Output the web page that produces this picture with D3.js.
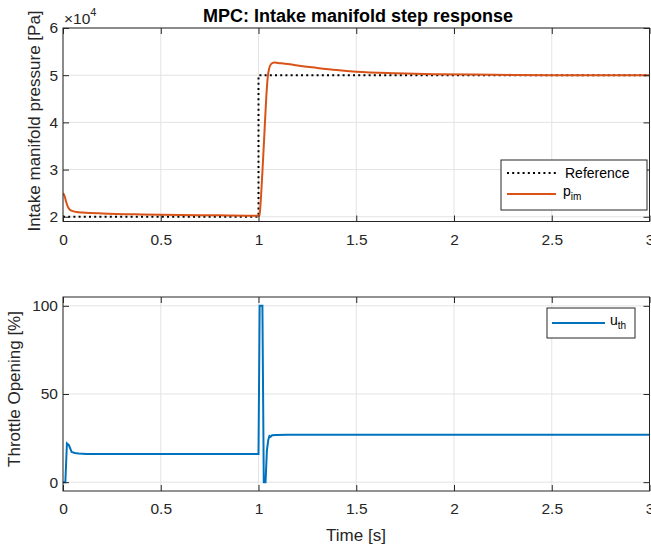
<!doctype html>
<html>
<head>
<meta charset="utf-8">
<script src="https://d3js.org/d3.v7.min.js"></script>
<style>
  body { margin: 0; background: #fff; }
  svg text { font-family: "Liberation Sans", Arial, sans-serif; fill: #262626; }
  .axis path { display: none; }
  .axis line { stroke: #262626; }
  .axis text { font-size: 15.5px; }
</style>
</head>
<body>
<script>
// x values shared by both panels
var xTicks = [0, 0.5, 1, 1.5, 2, 2.5, 3];

// top panel: intake manifold pressure (x 1e4 Pa)
var refTime = [0, 1.0, 1.0, 3.0];
var refValue = [2, 2, 5, 5];
var pimTime = [0, 0.008, 0.016, 0.025, 0.035, 0.05, 0.07, 0.1, 0.2, 0.4, 0.6, 0.8, 1.0, 1.005,
               1.01, 1.02, 1.03, 1.04, 1.047, 1.055, 1.065, 1.08, 1.1, 1.15, 1.2, 1.3, 1.4, 1.5,
               1.7, 1.9, 2.2, 2.5, 3.0];
var pimValue = [2.50, 2.44, 2.32, 2.21, 2.15, 2.12, 2.10, 2.09, 2.07, 2.05, 2.04, 2.03, 2.02, 2.02,
                2.25, 2.95, 3.75, 4.55, 4.95, 5.15, 5.24, 5.27, 5.26, 5.235, 5.205, 5.155, 5.11, 5.075,
                5.04, 5.02, 5.01, 5.00, 5.00];
var pimTicks = [2, 3, 4, 5, 6];

// bottom panel: throttle opening (%)
var uthTime = [0, 0.012, 0.02, 0.03, 0.044, 0.06, 0.08, 0.12, 1.0, 1.006, 1.02, 1.027, 1.036,
               1.043, 1.05, 1.056, 1.062, 1.07, 1.09, 1.15, 3.0];
var uthValue = [0, 0, 22, 21, 17.2, 16.6, 16.3, 16.0, 16.0, 100, 100, 0, 0,
                18, 24, 26.2, 25.8, 26.6, 26.8, 26.9, 26.9];
var uthTicks = [0, 50, 100];

var W = 651, H = 547;
var left = 63, right = 649.5;

var svg = d3.select("body").append("svg")
  .attr("width", W).attr("height", H);

var x1 = d3.scaleLinear().domain([0, 3]).range([left, right]);

function panel(top, bottom, yDomain, yTicks) {
  var y = d3.scaleLinear().domain(yDomain).range([bottom, top]);
  var g = svg.append("g");
  // grid
  g.selectAll(".vg").data(xTicks).enter().append("line")
    .attr("x1", d => x1(d)).attr("x2", d => x1(d))
    .attr("y1", top).attr("y2", bottom)
    .attr("stroke", "#e3e3e3").attr("stroke-width", 1);
  g.selectAll(".hg").data(yTicks).enter().append("line")
    .attr("x1", left).attr("x2", right)
    .attr("y1", d => y(d)).attr("y2", d => y(d))
    .attr("stroke", "#e3e3e3").attr("stroke-width", 1);
  return {y: y, g: g, top: top, bottom: bottom};
}

function frame(p, yTicks, yFmt) {
  var xa = d3.axisBottom(x1).tickValues(xTicks).tickSizeInner(-6).tickSizeOuter(0)
    .tickPadding(12).tickFormat(d3.format("~g"));
  svg.append("g").attr("class", "axis").attr("transform", "translate(0," + p.bottom + ")").call(xa);
  var xt = d3.axisTop(x1).tickValues(xTicks).tickSizeInner(-6).tickSizeOuter(0).tickFormat("");
  svg.append("g").attr("class", "axis").attr("transform", "translate(0," + p.top + ")").call(xt);
  var ya = d3.axisLeft(p.y).tickValues(yTicks).tickSizeInner(-6).tickSizeOuter(0)
    .tickPadding(5).tickFormat(yFmt);
  svg.append("g").attr("class", "axis").attr("transform", "translate(" + left + ",0)").call(ya);
  var yr = d3.axisRight(p.y).tickValues(yTicks).tickSizeInner(-6).tickSizeOuter(0).tickFormat("");
  svg.append("g").attr("class", "axis").attr("transform", "translate(" + right + ",0)").call(yr);
  svg.append("rect").attr("x", left).attr("y", p.top)
    .attr("width", right - left).attr("height", p.bottom - p.top)
    .attr("fill", "none").attr("stroke", "#262626").attr("stroke-width", 1);
}

// ---------- top ----------
var p1 = panel(28, 221.5, [1.9, 6], pimTicks);
svg.append("clipPath").attr("id", "c1").append("rect")
  .attr("x", left).attr("y", 28).attr("width", right - left).attr("height", 193.5);

var lineRef = d3.line().x((d, i) => x1(refTime[i])).y(d => p1.y(d));
var linePim = d3.line().x((d, i) => x1(pimTime[i])).y(d => p1.y(d)).curve(d3.curveMonotoneX);

p1.g.append("path").attr("d", lineRef(refValue)).attr("clip-path", "url(#c1)")
  .attr("fill", "none").attr("stroke", "#000").attr("stroke-width", 2)
  .attr("stroke-dasharray", "2,3.2");
p1.g.append("path").attr("d", linePim(pimValue)).attr("clip-path", "url(#c1)")
  .attr("fill", "none").attr("stroke", "#D95319").attr("stroke-width", 2);
frame(p1, pimTicks, d3.format("d"));

// x10^4 multiplier
var mult = svg.append("text").attr("x", 64).attr("y", 24).style("font-size", "15.5px");
mult.append("tspan").text("\u00d710");
mult.append("tspan").attr("dy", -8).style("font-size", "11px").text("4");

svg.append("text").attr("x", 358).attr("y", 22).attr("text-anchor", "middle")
  .style("font-size", "18px").style("font-weight", "bold").style("fill", "#000")
  .text("MPC: Intake manifold step response");

svg.append("text").attr("transform", "translate(40,121) rotate(-90)")
  .attr("text-anchor", "middle").style("font-size", "17px")
  .text("Intake manifold pressure [Pa]");

// legend top
var lg1 = svg.append("g");
lg1.append("rect").attr("x", 501).attr("y", 160).attr("width", 146).attr("height", 50)
  .attr("fill", "#fff").attr("stroke", "#262626").attr("stroke-width", 1);
lg1.append("line").attr("x1", 507).attr("x2", 556).attr("y1", 173).attr("y2", 173)
  .attr("stroke", "#000").attr("stroke-width", 2).attr("stroke-dasharray", "2,3.2");
lg1.append("text").attr("x", 565).attr("y", 178).style("font-size", "14px").style("fill", "#000").text("Reference");
lg1.append("line").attr("x1", 507).attr("x2", 556).attr("y1", 194).attr("y2", 194)
  .attr("stroke", "#D95319").attr("stroke-width", 2);
var t1 = lg1.append("text").attr("x", 563).attr("y", 196).style("font-size", "14px").style("fill", "#000");
t1.append("tspan").text("p");
t1.append("tspan").attr("dy", 4).style("font-size", "10px").text("im");

// ---------- bottom ----------
var p2 = panel(297, 491, [-5, 105], uthTicks);
svg.append("clipPath").attr("id", "c2").append("rect")
  .attr("x", left).attr("y", 297).attr("width", right - left).attr("height", 194);
var lineU = d3.line().x((d, i) => x1(uthTime[i])).y(d => p2.y(d));
p2.g.append("path").attr("d", lineU(uthValue)).attr("clip-path", "url(#c2)")
  .attr("fill", "none").attr("stroke", "#0072BD").attr("stroke-width", 2);
frame(p2, uthTicks, d3.format("d"));

svg.append("text").attr("transform", "translate(20,389) rotate(-90)")
  .attr("text-anchor", "middle").style("font-size", "17px")
  .text("Throttle Opening [%]");
svg.append("text").attr("x", 356).attr("y", 541).attr("text-anchor", "middle")
  .style("font-size", "17px").text("Time [s]");

// legend bottom
var lg2 = svg.append("g");
lg2.append("rect").attr("x", 547).attr("y", 308).attr("width", 88).attr("height", 30)
  .attr("fill", "#fff").attr("stroke", "#262626").attr("stroke-width", 1);
lg2.append("line").attr("x1", 552).attr("x2", 605).attr("y1", 323).attr("y2", 323)
  .attr("stroke", "#0072BD").attr("stroke-width", 2);
var t2 = lg2.append("text").attr("x", 610).attr("y", 325).style("font-size", "14px").style("fill", "#000");
t2.append("tspan").text("u");
t2.append("tspan").attr("dy", 4).style("font-size", "10px").text("th");
</script>
</body>
</html>
